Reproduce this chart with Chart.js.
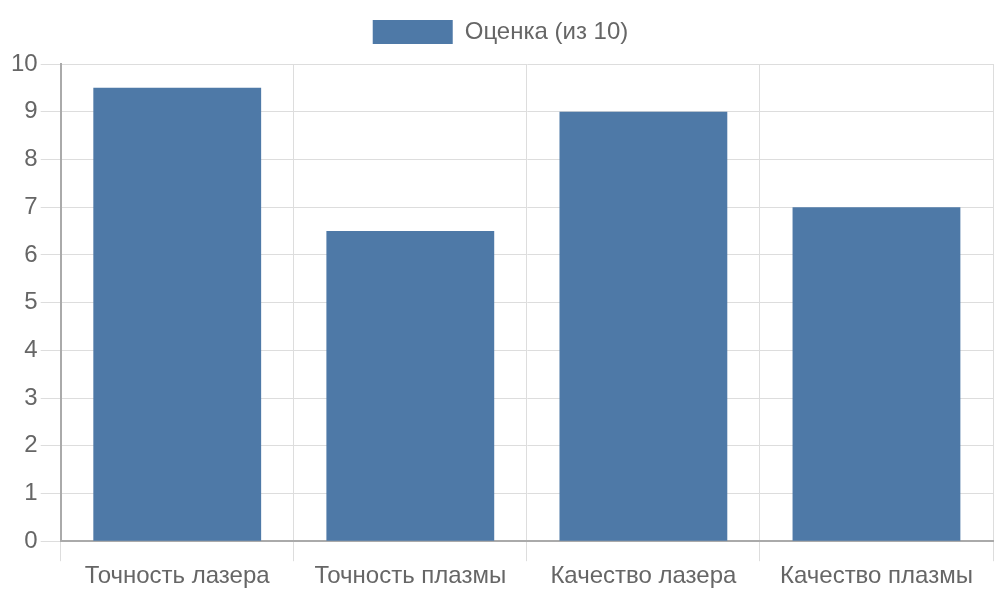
<!DOCTYPE html>
<html>
<head>
<meta charset="utf-8">
<script src="https://cdn.jsdelivr.net/npm/chart.js@4"></script>
<style>
  html, body { margin: 0; padding: 0; background: #fff; }
  #wrap { width: 1000px; height: 600px; }
</style>
</head>
<body>
<div id="wrap"><canvas id="barChart"></canvas></div>
<script>
const categories = ['Точность лазера', 'Точность плазмы', 'Качество лазера', 'Качество плазмы'];
const scores = [9.5, 6.5, 9, 7];
const seriesLabel = 'Оценка (из 10)';

Chart.defaults.font.family = '"Liberation Sans", Arial, sans-serif';
Chart.defaults.font.size = 24;
Chart.defaults.color = '#666';

const barChart = document.getElementById('barChart');

// extra space under the legend
const legendGap = {
    id: 'legendGap',
    beforeInit(chart) {
        const fit = chart.legend.fit;
        chart.legend.fit = function () {
            fit.bind(chart.legend)();
            this.height += 10;
        };
    }
};

const configBar = {
    type: 'bar',
    data: {
        labels: categories,
        datasets: [
            {
                label: seriesLabel,
                data: scores,
                backgroundColor: '#4e79a7',
            }
        ]
    },
    options: {
        responsive: true,
        maintainAspectRatio: false,
        animation: false,
        layout: { padding: { top: 10, left: 8, right: 7, bottom: 8 } },
        plugins: {
            legend: {
                position: 'top',
                labels: {
                    boxWidth: 80,
                    boxHeight: 24,
                    padding: 10,
                }
            },
            tooltip: { enabled: false }
        },
        scales: {
            x: {
                grid: { color: '#ddd', tickLength: 20 },
                border: { color: '#aaa', width: 2 },
                ticks: { padding: 1 }
            },
            y: {
                min: 0,
                max: 10,
                ticks: { stepSize: 1 },
                grid: { color: '#ddd', tickLength: 20 },
                border: { color: '#aaa', width: 2 }
            }
        }
    },
    plugins: [legendGap]
};

new Chart(barChart, configBar);
</script>
</body>
</html>
